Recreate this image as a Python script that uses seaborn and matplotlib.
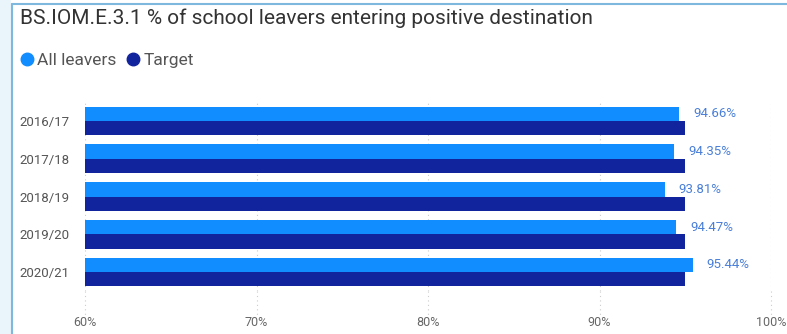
import matplotlib
matplotlib.use("Agg")
import matplotlib.pyplot as plt
import seaborn as sns
import pandas as pd
from matplotlib.lines import Line2D
from matplotlib.patches import Rectangle

years = ["2016/17", "2017/18", "2018/19", "2019/20", "2020/21"]
all_leavers = [94.66, 94.35, 93.81, 94.47, 95.44]
target = [95.0, 95.0, 95.0, 95.0, 95.0]
series_names = ["All leavers", "Target"]
tick_vals = [60, 70, 80, 90, 100]
tick_labels = ["60%", "70%", "80%", "90%", "100%"]
colors = ["#118DFF", "#12239E"]

df = pd.DataFrame({
    "year": years * 2,
    "series": [series_names[0]] * len(years) + [series_names[1]] * len(years),
    "value": all_leavers + target,
})

sns.set_theme(style="white")
plt.rcParams["font.family"] = ["Roboto", "DejaVu Sans"]

fig = plt.figure(figsize=(7.87, 3.34), dpi=100)
ax = fig.add_axes([85 / 787, 1 - 291 / 334, (771 - 85) / 787, 189 / 334])

sns.barplot(data=df, y="year", x="value", hue="series", order=years,
            hue_order=series_names, palette=colors, orient="h",
            width=0.76, saturation=1, ax=ax, legend=False, zorder=3,
            linewidth=0, edgecolor="none")

ax.set_xlim(60, 100)
ax.set_xticks(tick_vals)
ax.set_xticklabels(tick_labels, color="#666666", fontsize=9)
ax.tick_params(axis="x", length=0, pad=18)
ax.tick_params(axis="y", length=0, pad=11, labelsize=9.5, labelcolor="#555555")
ax.set_xlabel("")
ax.set_ylabel("")
for s in ax.spines.values():
    s.set_visible(False)
ax.grid(axis="x", color="#cccccc", linestyle=(0, (1, 3)), linewidth=0.8, zorder=0)
ax.set_axisbelow(True)
for x in tick_vals:
    ax.plot([x, x], [4.5, 5.2], color="#cccccc", linestyle=(0, (1, 3)),
            linewidth=0.8, clip_on=False, zorder=0)
ax.set_ylim(4.5, -0.5)

labels = [f"{v:.2f}%" for v in all_leavers]
ax.bar_label(ax.containers[0], labels=labels, padding=10, fontsize=9.5,
             color="#4a7fd8")

# background strip and borders
fig.patches.append(Rectangle((0, 0), 11 / 787, 1, transform=fig.transFigure,
                             facecolor="#eaf4fb", edgecolor="none", zorder=0))
fig.add_artist(Line2D([12 / 787, 12 / 787], [0, 1 - 4 / 334], transform=fig.transFigure,
                      color="#7fb8de", linewidth=1.5))
fig.add_artist(Line2D([12 / 787, 1], [1 - 4 / 334, 1 - 4 / 334], transform=fig.transFigure,
                      color="#7fb8de", linewidth=1.5))

fig.text(20 / 787, 1 - 18 / 334, "BS.IOM.E.3.1 % of school leavers entering positive destination",
         fontsize=15, color="#333333", va="center", ha="left")

handles = [Line2D([0], [0], marker="o", linestyle="none", markersize=9,
                  markerfacecolor=c, markeredgecolor=c) for c in colors]
fig.legend(handles, series_names, loc="center left",
           bbox_to_anchor=(19 / 787, 1 - 60 / 334), ncol=2, frameon=False,
           fontsize=12.5, handletextpad=0.15, columnspacing=0.5, handlelength=0.9,
           labelcolor="#555555", borderaxespad=0, borderpad=0)

fig.savefig("out.png", dpi=100)
